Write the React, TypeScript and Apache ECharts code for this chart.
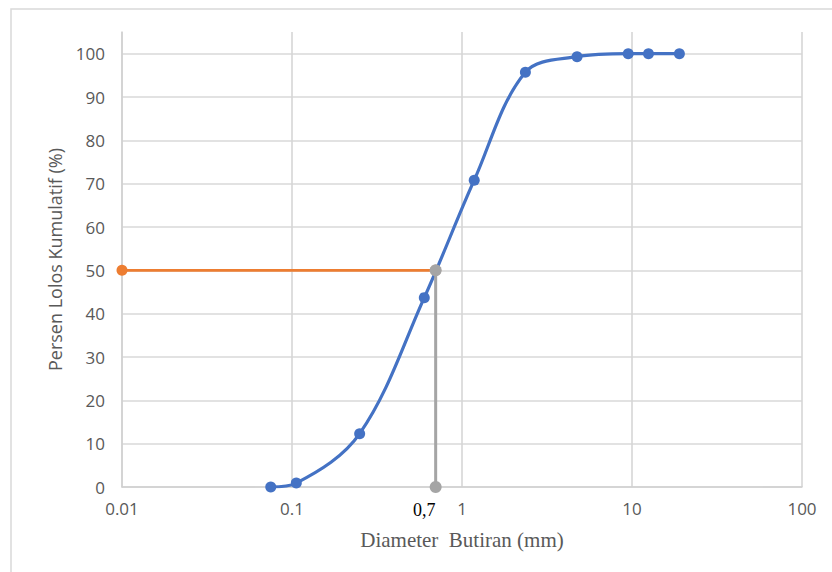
import React, { useEffect, useRef } from "react";
import * as echarts from "echarts";

const sieveSizes = [0.075, 0.106, 0.25, 0.6, 1.18, 2.36, 4.75, 9.5, 12.5, 19];
const percentPassing = [0, 0.9, 12.3, 43.7, 70.8, 95.7, 99.3, 100, 100, 100];
const d50Horizontal = [
  [0.01, 50],
  [0.7, 50],
];
const d50Vertical = [
  [0.7, 50],
  [0.7, 0],
];
const d50Label = "0,7";
const xTitle = "Diameter  Butiran (mm)";
const yTitle = "Persen Lolos Kumulatif (%)";

export default function App() {
  const ref = useRef<HTMLDivElement>(null);
  useEffect(() => {
    document.body.style.margin = "0";
    const chart = echarts.init(ref.current!, null, { renderer: "svg" });
    const sans = "Open Sans";
    chart.setOption({
      animation: false,
      backgroundColor: "#ffffff",
      graphic: [
        {
          type: "rect",
          shape: { x: 11, y: 9, width: 840, height: 600 },
          style: { fill: "none", stroke: "#d9d9d9", lineWidth: 1.5 },
          silent: true,
        },
      ],
      grid: { left: 122, right: 30, top: 32, bottom: 85 },
      xAxis: {
        type: "log",
        logBase: 10,
        min: 0.01,
        max: 100,
        name: xTitle,
        nameLocation: "middle",
        nameGap: 42,
        nameTextStyle: {
          fontFamily: "Liberation Serif",
          fontSize: 21,
          color: "#595959",
        },
        axisLine: { show: true, lineStyle: { color: "#d0d0d0", width: 1.5 } },
        axisTick: { show: false },
        axisLabel: { fontFamily: sans, fontSize: 17, color: "#595959", margin: 13 },
        splitLine: { show: true, lineStyle: { color: "#d6d6d6", width: 1.6 } },
        minorSplitLine: { show: false },
      },
      yAxis: {
        type: "value",
        min: 0,
        max: 105,
        interval: 10,
        name: yTitle,
        nameLocation: "middle",
        nameGap: 58,
        nameTextStyle: { fontFamily: sans, fontSize: 18, color: "#595959" },
        axisLine: { show: true, lineStyle: { color: "#d0d0d0", width: 1.5 } },
        axisTick: { show: false },
        axisLabel: {
          fontFamily: sans,
          fontSize: 17,
          color: "#595959",
          margin: 17,
          showMaxLabel: false,
          formatter: (v: number) => (v > 100 ? "" : String(v)),
        },
        splitLine: {
          show: true,
          showMaxLine: false,
          lineStyle: { color: "#d9d9d9", width: 1.5 },
        },
      },
      series: [
        {
          type: "line",
          data: sieveSizes.map((s, i) => [s, percentPassing[i]]),
          smooth: 0.35,
          symbol: "circle",
          symbolSize: 11,
          lineStyle: { color: "#4472C4", width: 3.2 },
          itemStyle: { color: "#4472C4" },
          z: 3,
        },
        {
          type: "line",
          data: d50Horizontal,
          symbol: "circle",
          symbolSize: 11,
          lineStyle: { color: "#ED7D31", width: 2.6 },
          itemStyle: { color: "#ED7D31" },
          z: 4,
        },
        {
          type: "line",
          data: [
            { value: d50Vertical[0] },
            {
              value: d50Vertical[1],
              label: {
                show: true,
                formatter: d50Label,
                position: "bottom",
                distance: 8,
                offset: [-11.5, 0],
                fontFamily: "Liberation Serif",
                fontSize: 18,
                color: "#000000",
              },
            },
          ],
          symbol: "circle",
          symbolSize: 12,
          lineStyle: { color: "#A5A5A5", width: 3 },
          itemStyle: { color: "#A5A5A5" },
          z: 5,
        },
      ],
    });
    return () => chart.dispose();
  }, []);
  return <div ref={ref} style={{ width: 832, height: 572 }} />;
}
